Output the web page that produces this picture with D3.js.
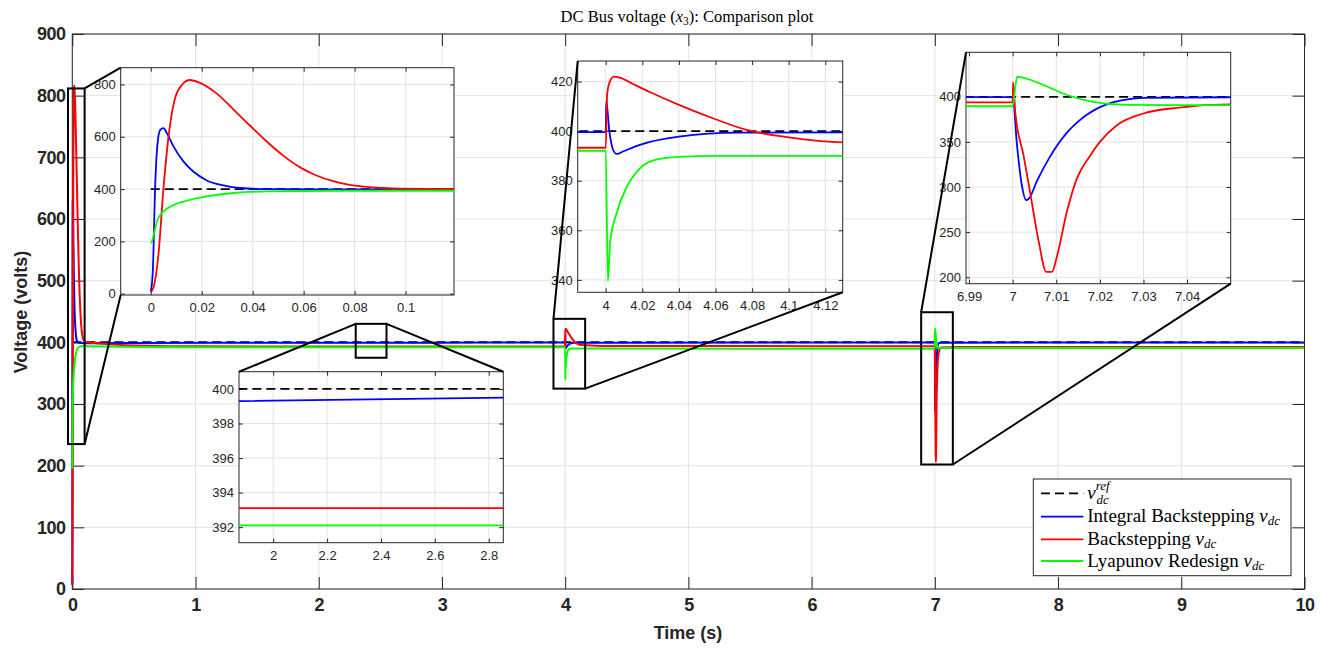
<!DOCTYPE html>
<html><head><meta charset="utf-8">
<script src="https://cdn.jsdelivr.net/npm/d3@7"></script>
<style>body{margin:0;background:#fff}svg{display:block}</style>
</head><body>
<svg id="chart" width="1329" height="648"></svg>
<script>
// ---------------- DATA ----------------
const seriesNames = ["v_dc^ref", "Integral Backstepping v_dc", "Backstepping v_dc", "Lyapunov Redesign v_dc"];
const refSeries = [[0,400],[10,400]];
const integralBS = [[0,7],[0.0008,86],[0.0017,404],[0.0026,569],[0.0037,626],[0.005,633],[0.0063,614],[0.0089,563],
 [0.0128,506],[0.0167,467],[0.022,433],[0.0285,414],[0.035,404],[0.0455,400],[0.07,399],[0.119,398.7],[0.5,398.9],
 [1.87,399.3],[2.86,399.5],[3.99,399.6],[4.0,399.6],[4.0003,412],[4.002,400],[4.004,392.5],[4.006,390.8],[4.01,392],
 [4.0187,394.5],[4.04,397.8],[4.073,399.4],[4.13,399.5],[6.999,399.6],[7.0,399.5],[7.001,346],[7.0021,302],
 [7.0031,285.5],[7.0037,287],[7.0056,307],[7.0086,334],[7.0124,360],[7.015,372.5],[7.017,380],[7.02,388.5],
 [7.0224,393],[7.026,396.8],[7.03,398.8],[7.05,399.5],[10,399.7]];
const backstepping = [[0,7],[0.001,22],[0.003,149],[0.005,404],[0.0069,595],[0.0089,722],[0.0122,798],[0.0154,817],
 [0.0193,806],[0.0259,765],[0.0324,705],[0.039,642],[0.0455,582],[0.052,528],[0.0586,483],[0.065,452],[0.0716,430],
 [0.078,416],[0.0847,408],[0.0912,404],[0.0978,401.5],[0.119,400],[0.3,397],[0.6,394.5],[1.0,393.5],[1.87,393.1],
 [2.86,393.1],[3.99,393.3],[4.0,393.3],[4.0008,415],[4.002,419.5],[4.0045,422],[4.008,421.5],[4.015,419],[4.025,415.5],
 [4.04,410.6],[4.06,404.8],[4.077,400.5],[4.1,397.5],[4.13,395.5],[4.3,394.2],[5,393.9],[6.999,393.8],[7.0,393.8],
 [7.0001,416],[7.0006,383],[7.0025,335],[7.004,294],[7.006,239],[7.0077,206],[7.009,206],[7.0102,224],[7.0124,272],
 [7.0147,309],[7.0178,335],[7.02,350],[7.0239,368.5],[7.03,381.5],[7.0376,387.8],[7.05,391.5],[7.2,392.3],[10,392.4]];
const lyapunov = [[0,195],[0.0004,197],[0.001,219],[0.0024,276],[0.0043,308],[0.0063,325],[0.0102,344],[0.0154,359],
 [0.022,372],[0.0324,385],[0.0455,391],[0.0716,393.5],[0.119,393.5],[0.6,392.6],[1.2,392.2],[1.87,392.1],[2.86,392.1],
 [3.99,392.1],[4.0,392.1],
 [4.0012,339.5],[4.0024,355],[4.006,367],[4.0115,377.5],[4.0187,385],[4.028,388.6],[4.04,389.6],[4.06,390],[4.13,390],
 [6.999,389.5],[7.0,389.5],[7.001,422],[7.0071,413],[7.0124,402],[7.0185,394.4],[7.026,391],[7.05,390.8],[10,390.8]];

const mainXTicks = [0,1,2,3,4,5,6,7,8,9,10];
const mainYTicks = [0,100,200,300,400,500,600,700,800,900];
const inset1XTicks = [0,0.02,0.04,0.06,0.08,0.1];
const inset1YTicks = [0,200,400,600,800];
const inset2XTicks = [2,2.2,2.4,2.6,2.8];
const inset2YTicks = [392,394,396,398,400];
const inset3XTicks = [4,4.02,4.04,4.06,4.08,4.1,4.12];
const inset3YTicks = [340,360,380,400,420];
const inset4XTicks = [6.99,7,7.01,7.02,7.03,7.04];
const inset4YTicks = [200,250,300,350,400];

// zoom rectangles on the main axes: [t0, t1, v0, v1]
const zoomRect1 = [-0.035, 0.1, 235, 811.7];
const zoomRect2 = [2.3, 2.55, 375, 430];
const zoomRect3 = [3.905, 4.162, 324.9, 438.1];
const zoomRect4 = [6.889, 7.146, 201.9, 448.8];

// ---------------- STYLE / LAYOUT ----------------
const colors = ["#000000", "#0000ff", "#ff0000", "#00ff00"];
const allSeries = [refSeries, integralBS, backstepping, lyapunov];
const sans = "'Liberation Sans', Arial, Helvetica, sans-serif";
const serif = "'Liberation Serif', 'Times New Roman', serif";
const axisCol = "#262626", gridCol = "#e3e3e3";

const svg = d3.select("#chart");
const M = {l:72.3, r:1304.5, t:34, b:589};
const x = d3.scaleLinear().domain([0,10]).range([M.l, M.r]);
const y = d3.scaleLinear().domain([0,900]).range([M.b, M.t]);

svg.append("defs").append("clipPath").attr("id","clipMain")
  .append("rect").attr("x",M.l-2).attr("y",M.t).attr("width",M.r-M.l+2).attr("height",M.b-M.t);

function drawGrid(g, xs, ys, xt, yt, box) {
  g.append("g").selectAll("line").data(xt).join("line")
    .attr("x1", d=>xs(d)).attr("x2", d=>xs(d)).attr("y1", box.y0).attr("y2", box.y1)
    .attr("stroke", gridCol).attr("stroke-width",1);
  g.append("g").selectAll("line").data(yt).join("line")
    .attr("y1", d=>ys(d)).attr("y2", d=>ys(d)).attr("x1", box.x0).attr("x2", box.x1)
    .attr("stroke", gridCol).attr("stroke-width",1);
}
function drawFrame(g, xs, ys, xt, yt, box, opt) {
  const tl = opt.tick;
  const fmt = d => String(+d.toFixed(4));
  const ax = g.append("g").attr("transform",`translate(0,${box.y1})`)
    .call(d3.axisBottom(xs).tickValues(xt).tickSizeInner(-tl).tickSizeOuter(0).tickPadding(opt.padX).tickFormat(fmt));
  const ay = g.append("g").attr("transform",`translate(${box.x0},0)`)
    .call(d3.axisLeft(ys).tickValues(yt).tickSizeInner(-tl).tickSizeOuter(0).tickPadding(opt.padY).tickFormat(fmt));
  const at = g.append("g").attr("transform",`translate(0,${box.y0})`)
    .call(d3.axisTop(xs).tickValues(xt).tickSizeInner(-tl).tickSizeOuter(0).tickFormat(""));
  const ar = g.append("g").attr("transform",`translate(${box.x1},0)`)
    .call(d3.axisRight(ys).tickValues(yt).tickSizeInner(-tl).tickSizeOuter(0).tickFormat(""));
  [ax,ay,at,ar].forEach(a=>{
    a.select(".domain").remove();
    a.selectAll(".tick line").attr("stroke", axisCol).attr("stroke-width",1);
    a.selectAll("text").attr("fill", axisCol).attr("font-family", sans)
      .attr("font-size", opt.fs).attr("font-weight", opt.bold?"bold":"normal")
      .attr("letter-spacing", opt.ls||0);
  });
  g.append("rect").attr("x",box.x0).attr("y",box.y0).attr("width",box.x1-box.x0).attr("height",box.y1-box.y0)
    .attr("fill","none").attr("stroke",axisCol).attr("stroke-width",1);
}
function drawLines(g, xs, ys, clipId, lw) {
  const line = d3.line().x(d=>xs(d[0])).y(d=>ys(d[1])).curve(d3.curveMonotoneX);
  const lg = g.append("g").attr("clip-path",`url(#${clipId})`);
  allSeries.forEach((s,i)=>{
    lg.append("path").datum(s).attr("d", line).attr("fill","none")
      .attr("stroke", colors[i]).attr("stroke-width", lw)
      .attr("stroke-dasharray", i===0 ? "9,5" : null)
      .attr("stroke-linejoin","round");
  });
}

// ---- main axes ----
const mainG = svg.append("g");
const mainBox = {x0:M.l, x1:M.r, y0:M.t, y1:M.b};
drawGrid(mainG, x, y, mainXTicks, mainYTicks, mainBox);
drawFrame(mainG, x, y, mainXTicks, mainYTicks, mainBox, {tick:12, padX:9, padY:7, fs:18, bold:true, ls:-0.6});
drawLines(mainG, x, y, "clipMain", 2);

// zoom rectangles
const rects = [zoomRect1, zoomRect2, zoomRect3, zoomRect4].map(r=>({
  x0:x(r[0]), x1:x(r[1]), y0:y(r[3]), y1:y(r[2])}));
svg.append("g").selectAll("rect").data(rects).join("rect")
  .attr("x", d=>d.x0).attr("y", d=>d.y0).attr("width", d=>d.x1-d.x0).attr("height", d=>d.y1-d.y0)
  .attr("fill","none").attr("stroke","#000").attr("stroke-width",2);

// ---- insets ----
const insets = [
  {box:{x0:120.7,x1:454,y0:67.7,y1:295}, xd:[-0.0118,0.119], yd:[-5,864], xt:inset1XTicks, yt:inset1YTicks},
  {box:{x0:239,x1:503.3,y0:371.7,y1:542.7}, xd:[1.873,2.854], yd:[391.1,401.0], xt:inset2XTicks, yt:inset2YTicks},
  {box:{x0:577.7,x1:842.7,y0:61,y1:292.3}, xd:[3.9847,4.1295], yd:[335,428.3], xt:inset3XTicks, yt:inset3YTicks},
  {box:{x0:966,x1:1230.7,y0:52.3,y1:283.7}, xd:[6.9893,7.05], yd:[192.9,449.3], xt:inset4XTicks, yt:inset4YTicks}
];
insets.forEach((ins,k)=>{
  const b = ins.box;
  const xs = d3.scaleLinear().domain(ins.xd).range([b.x0,b.x1]);
  const ys = d3.scaleLinear().domain(ins.yd).range([b.y1,b.y0]);
  svg.select("defs").append("clipPath").attr("id","clipIn"+k)
    .append("rect").attr("x",b.x0).attr("y",b.y0).attr("width",b.x1-b.x0).attr("height",b.y1-b.y0);
  const g = svg.append("g");
  g.append("rect").attr("x",b.x0).attr("y",b.y0).attr("width",b.x1-b.x0).attr("height",b.y1-b.y0).attr("fill","#fff");
  drawGrid(g, xs, ys, ins.xt, ins.yt, b);
  drawFrame(g, xs, ys, ins.xt, ins.yt, b, {tick:4, padX:8, padY:5, fs:13, bold:false});
  drawLines(g, xs, ys, "clipIn"+k, 1.8);
});

// connectors
const I = insets.map(d=>d.box);
const connectors = [
  [rects[0].x1, rects[0].y0, I[0].x0, I[0].y0], [rects[0].x1, rects[0].y1, I[0].x0, I[0].y1],
  [rects[1].x0, rects[1].y0, I[1].x0, I[1].y0], [rects[1].x1, rects[1].y0, I[1].x1, I[1].y0],
  [rects[2].x0, rects[2].y0, I[2].x0, I[2].y0], [rects[2].x1, rects[2].y1, I[2].x1, I[2].y1],
  [rects[3].x0, rects[3].y0, I[3].x0, I[3].y0], [rects[3].x1, rects[3].y1, I[3].x1, I[3].y1]
];
svg.append("g").selectAll("line").data(connectors).join("line")
  .attr("x1",d=>d[0]).attr("y1",d=>d[1]).attr("x2",d=>d[2]).attr("y2",d=>d[3])
  .attr("stroke","#000").attr("stroke-width",2);

// ---- labels ----
const title = svg.append("text").attr("x", 687).attr("y", 22).attr("text-anchor","middle")
  .attr("font-family", serif).attr("font-size", 16.5).attr("fill","#000");
title.append("tspan").text("DC Bus voltage (");
title.append("tspan").attr("font-style","italic").text("x");
title.append("tspan").attr("font-size",11.5).attr("dy",3).text("3");
title.append("tspan").attr("dy",-3).text("): Comparison plot");

svg.append("text").attr("x", 688).attr("y", 639).attr("text-anchor","middle")
  .attr("font-family", sans).attr("font-weight","bold").attr("font-size",18).attr("fill",axisCol).text("Time (s)");
svg.append("text").attr("transform","translate(27,312) rotate(-90)").attr("text-anchor","middle")
  .attr("font-family", sans).attr("font-weight","bold").attr("font-size",18).attr("fill",axisCol).text("Voltage (volts)");

// ---- legend ----
const lg = svg.append("g");
lg.append("rect").attr("x",1033.3).attr("y",479).attr("width",257.7).attr("height",96.7)
  .attr("fill","#fff").attr("stroke",axisCol).attr("stroke-width",1);
const rowsY = [493.3, 516.7, 539.3, 561];
seriesNames.forEach((nm,i)=>{
  lg.append("line").attr("x1",1041).attr("x2",1083.3).attr("y1",rowsY[i]).attr("y2",rowsY[i])
    .attr("stroke",colors[i]).attr("stroke-width",1.8).attr("stroke-dasharray", i===0?"9,5":null);
  const t = lg.append("text").attr("x",1087.3).attr("y",rowsY[i]+5.5).attr("font-family",serif)
    .attr("font-size",19).attr("fill","#000");
  if (i===0) {
    t.append("tspan").attr("font-style","italic").text("v");
    t.append("tspan").attr("font-style","italic").attr("font-size",13).attr("dy",-9).text("ref");
    t.append("tspan").attr("font-style","italic").attr("font-size",13).attr("x",1096.5).attr("dy",14).text("dc");
  } else {
    t.append("tspan").text(nm.replace(" v_dc"," "));
    t.append("tspan").attr("font-style","italic").text("v");
    t.append("tspan").attr("font-style","italic").attr("font-size",13).attr("dy",3).text("dc");
  }
});
</script>
</body></html>
